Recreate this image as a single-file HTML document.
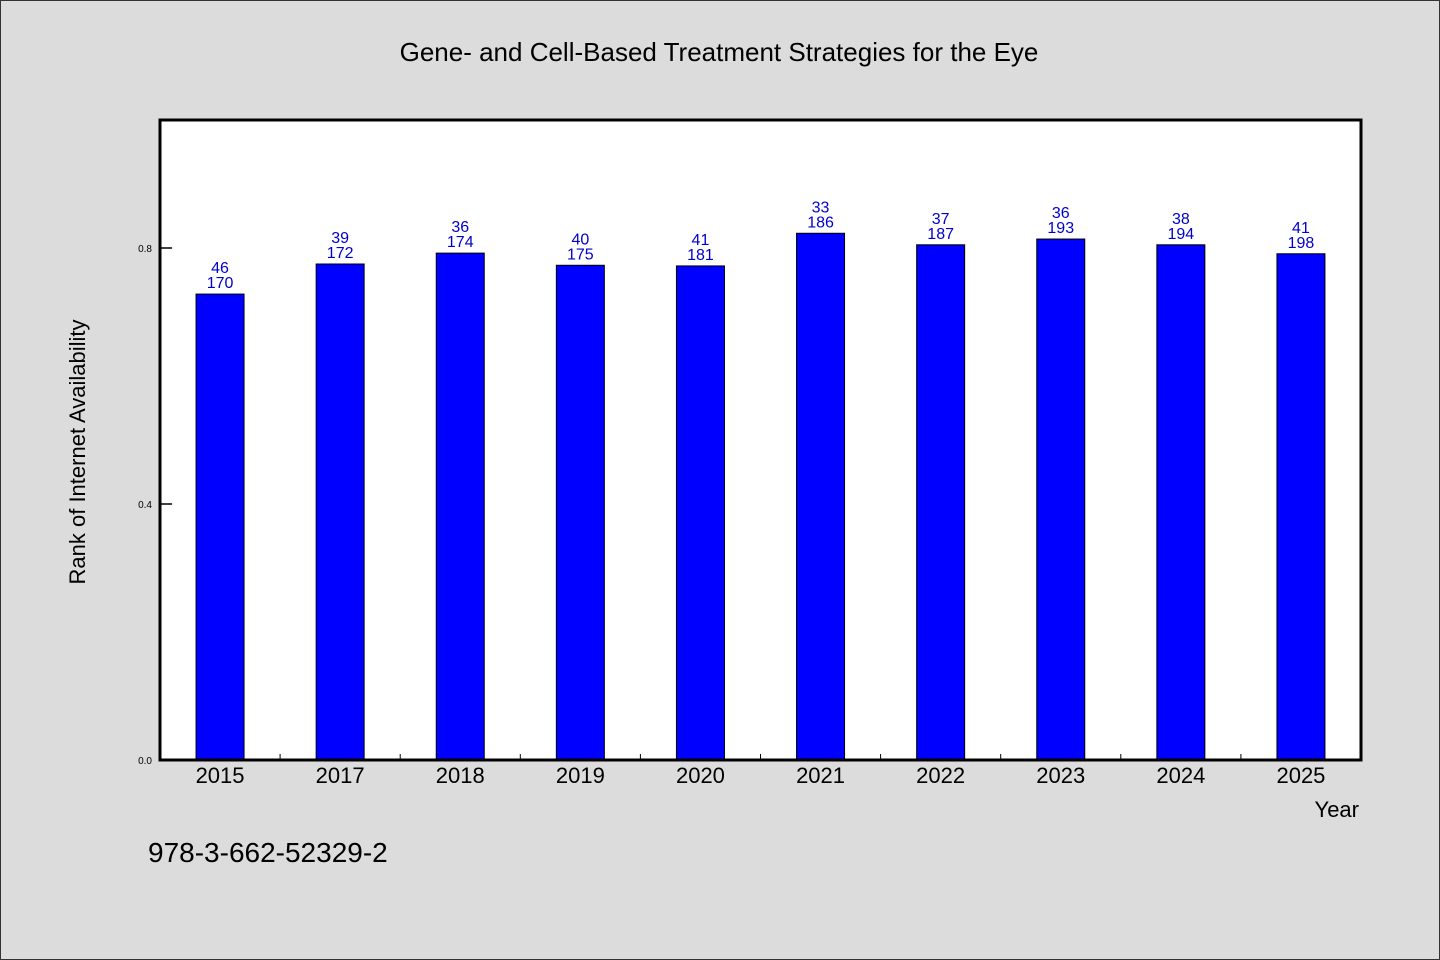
<!DOCTYPE html>
<html><head><meta charset="utf-8"><style>
body{margin:0;background:#dcdcdc;}
svg{display:block;font-family:"WenQuanYi Zen Hei","Liberation Sans",sans-serif;}
</style></head><body>
<svg width="1440" height="960" viewBox="0 0 1440 960" id="chart">
<rect x="0.5" y="0.5" width="1439" height="959" fill="#dcdcdc" stroke="#333"/>
<text x="719" y="61" text-anchor="middle" font-size="26" fill="#000">Gene- and Cell-Based Treatment Strategies for the Eye</text>
<rect x="160" y="120" width="1201" height="640" fill="#fff"/>
<g id="bars"></g>
<rect x="160" y="120" width="1201" height="640" fill="none" stroke="#000" stroke-width="3"/>
<text transform="translate(85,452) rotate(-90)" text-anchor="middle" font-size="22" fill="#000">Rank of Internet Availability</text>
<text x="1359" y="817" text-anchor="end" font-size="22" fill="#000">Year</text>
<text x="148" y="862" font-size="28" fill="#000">978-3-662-52329-2</text>
</svg>
<script>
const categories=["2015","2017","2018","2019","2020","2021","2022","2023","2024","2025"];
const values=[0.728,0.775,0.792,0.773,0.772,0.823,0.805,0.814,0.805,0.791];
const topLabels=["46","39","36","40","41","33","37","36","38","41"];
const bottomLabels=["170","172","174","175","181","186","187","193","194","198"];
const yTicks=[0,0.4,0.8];
const yTickLabels=["0.0","0.4","0.8"];
const x0=160,x1=1361,yb=760,ppu=640;
const NS="http://www.w3.org/2000/svg";
const g=document.getElementById('bars');
const bw=(x1-x0)/categories.length;
function X(i){return x0+bw*(i+0.5);}
function Y(v){return yb-v*ppu;}
function mk(t,a){const e=document.createElementNS(NS,t);for(const k in a)e.setAttribute(k,a[k]);return e;}
yTicks.forEach((v,i)=>{
 const l=mk('line',{x1:x0,x2:x0+12,y1:Y(v),y2:Y(v),stroke:'#000','stroke-width':1.5});
 
 
 g.appendChild(l);
 const t=mk('text',{x:x0-8,y:Y(v)+4,'text-anchor':'end','font-size':10,fill:'#000'});
 t.textContent=yTickLabels[i];
 
 
 g.appendChild(t);
});
categories.forEach((c,i)=>{
 if(i>0){const tk=mk('line',{x1:x0+bw*i,x2:x0+bw*i,y1:yb,y2:yb-6,stroke:'#000','stroke-width':1});
 
 
 g.appendChild(tk);}
 const cx=X(i),y=Y(values[i]);
 const r=mk('rect',{x:cx-24,y:y,width:48,height:yb-y,fill:'#0000ff',stroke:'#000','stroke-width':1});
 
 
 g.appendChild(r);
 const t1=mk('text',{x:cx,y:y-21,'text-anchor':'middle','font-size':16,fill:'#0000cc'});
 t1.textContent=topLabels[i];
 
 
 g.appendChild(t1);
 const t2=mk('text',{x:cx,y:y-6,'text-anchor':'middle','font-size':16,fill:'#0000cc'});
 t2.textContent=bottomLabels[i];
 
 
 g.appendChild(t2);
 const xl=mk('text',{x:cx,y:783,'text-anchor':'middle','font-size':22,fill:'#000'});
 xl.textContent=c;
 
 
 g.appendChild(xl);
});
</script>
</body></html>
